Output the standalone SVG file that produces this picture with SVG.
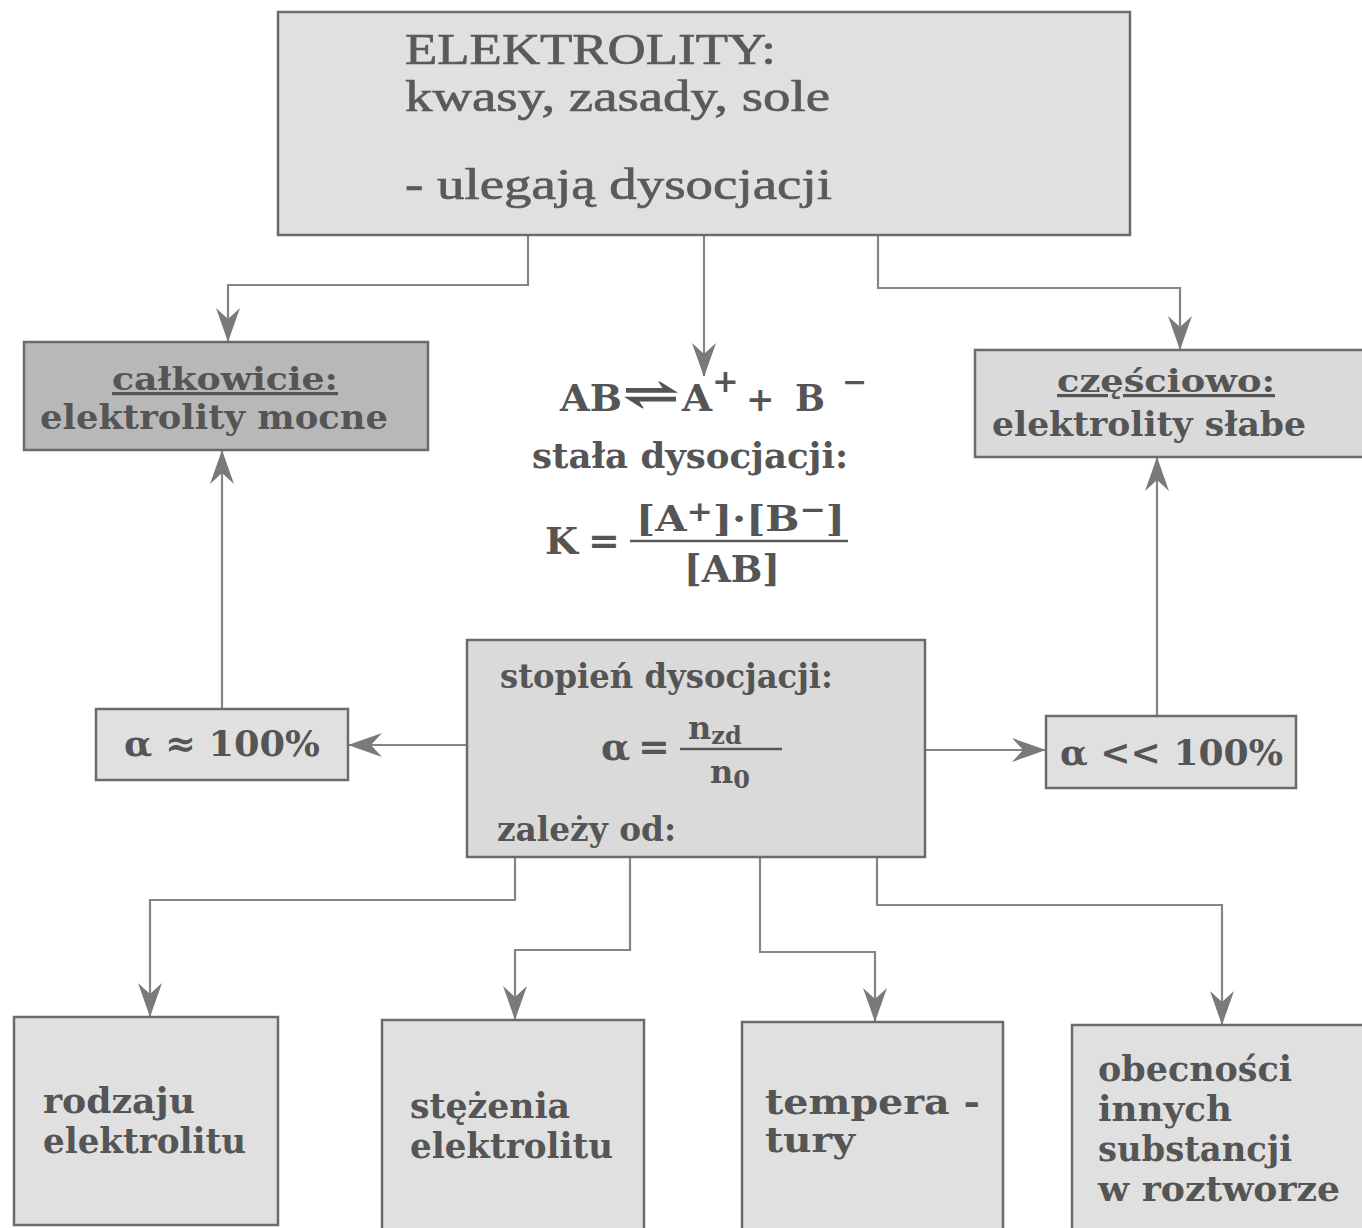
<svg xmlns="http://www.w3.org/2000/svg" width="1362" height="1228" viewBox="0 0 1362 1228">
<defs>
<style>
.box{stroke:#6b6b6b;stroke-width:2.5}
.light{fill:#e0e0e0}
.mid{fill:#dadada}
.dark{fill:#b8b8b8}
.conn{fill:none;stroke:#858585;stroke-width:2.2}
.t{font-family:"DejaVu Serif","Liberation Serif",serif;font-weight:bold;fill:#555555}
.tt{font-family:"Liberation Serif","Times New Roman",serif;fill:#5a5a5a;stroke:#5a5a5a;stroke-width:0.7;font-size:44px}
.u{text-decoration:underline}
</style>
<marker id="arr" markerUnits="userSpaceOnUse" markerWidth="34" markerHeight="28" viewBox="0 0 34 28" refX="33" refY="14" orient="auto">
<path d="M0,2 L34,14 L0,26 L11,14 Z" fill="#7a7a7a"/>
</marker>
</defs>
<rect width="1362" height="1228" fill="#ffffff"/>

<g id="connectors">
<polyline class="conn" points="528,235 528,285 228,285 228,341" marker-end="url(#arr)"/>
<line class="conn" x1="704" y1="235" x2="704" y2="376" marker-end="url(#arr)"/>
<polyline class="conn" points="878,235 878,288 1180,288 1180,349" marker-end="url(#arr)"/>
<line class="conn" x1="467" y1="745" x2="349" y2="745" marker-end="url(#arr)"/>
<line class="conn" x1="222" y1="709" x2="222" y2="451" marker-end="url(#arr)"/>
<line class="conn" x1="925" y1="750" x2="1045" y2="750" marker-end="url(#arr)"/>
<line class="conn" x1="1157" y1="716" x2="1157" y2="458" marker-end="url(#arr)"/>
<polyline class="conn" points="515,857 515,900 150,900 150,1016" marker-end="url(#arr)"/>
<polyline class="conn" points="630,857 630,950 515,950 515,1019" marker-end="url(#arr)"/>
<polyline class="conn" points="760,857 760,952 875,952 875,1021" marker-end="url(#arr)"/>
<polyline class="conn" points="877,857 877,905 1222,905 1222,1024" marker-end="url(#arr)"/>
</g>

<g id="elektrolity">
<rect class="box light" x="278" y="12" width="852" height="223"/>
<text class="tt" x="405" y="64" textLength="371" lengthAdjust="spacingAndGlyphs">ELEKTROLITY:</text>
<text class="tt" x="405" y="111" textLength="425" lengthAdjust="spacingAndGlyphs">kwasy, zasady, sole</text>
<text class="tt" x="405" y="199" textLength="427" lengthAdjust="spacingAndGlyphs">- ulegają dysocjacji</text>
</g>

<g id="calkowicie">
<rect class="box dark" x="24" y="342" width="404" height="108"/>
<text class="t u" x="112" y="390" font-size="32" textLength="226" lengthAdjust="spacingAndGlyphs">całkowicie:</text>
<text class="t" x="40" y="429" font-size="33" textLength="348" lengthAdjust="spacingAndGlyphs">elektrolity mocne</text>
</g>

<g id="czesciowo">
<rect class="box mid" x="975" y="350" width="392" height="107"/>
<text class="t u" x="1057" y="392" font-size="32" textLength="218" lengthAdjust="spacingAndGlyphs">częściowo:</text>
<text class="t" x="992" y="436" font-size="34" textLength="314" lengthAdjust="spacingAndGlyphs">elektrolity słabe</text>
</g>

<g id="rownanie">
<text class="t" x="560" y="411" font-size="38" textLength="62" lengthAdjust="spacingAndGlyphs">AB</text>
<text class="t" x="622" y="409" font-size="44" textLength="58" lengthAdjust="spacingAndGlyphs">⇌</text>
<text class="t" x="682" y="411" font-size="38" textLength="30" lengthAdjust="spacingAndGlyphs">A</text>
<text class="t" x="712" y="392" font-size="32">+</text>
<text class="t" x="746" y="411" font-size="34">+</text>
<text class="t" x="795" y="411" font-size="38" textLength="30" lengthAdjust="spacingAndGlyphs">B</text>
<text class="t" x="842" y="392" font-size="30">−</text>
<text class="t" x="532" y="468" font-size="36" textLength="316" lengthAdjust="spacingAndGlyphs">stała dysocjacji:</text>
<text class="t" x="545" y="554" font-size="38">K</text>
<text class="t" x="588" y="554" font-size="38">=</text>
<text class="t" x="636" y="531" font-size="36" textLength="209" lengthAdjust="spacingAndGlyphs">[A<tspan dy="-10" font-size="28">+</tspan><tspan dy="10">]·[B</tspan><tspan dy="-12" font-size="28">−</tspan><tspan dy="12">]</tspan></text>
<line x1="630" y1="541" x2="848" y2="541" stroke="#595959" stroke-width="2.5"/>
<text class="t" x="684" y="582" font-size="38" textLength="96" lengthAdjust="spacingAndGlyphs">[AB]</text>
</g>

<g id="stopien">
<rect class="box mid" x="467" y="640" width="458" height="217"/>
<text class="t" x="500" y="688" font-size="34" textLength="333" lengthAdjust="spacingAndGlyphs">stopień dysocjacji:</text>
<text class="t" x="601" y="760" font-size="38">α</text>
<text class="t" x="638" y="760" font-size="38">=</text>
<line x1="680" y1="749" x2="782" y2="749" stroke="#595959" stroke-width="2.5"/>
<text class="t" x="688" y="739" font-size="32">n<tspan dy="5" font-size="24">zd</tspan></text>
<text class="t" x="710" y="783" font-size="32">n<tspan dy="5" font-size="24">0</tspan></text>
<text class="t" x="497" y="841" font-size="34" textLength="179" lengthAdjust="spacingAndGlyphs">zależy od:</text>
</g>

<g id="alfa-duze">
<rect class="box light" x="96" y="709" width="252" height="71"/>
<text class="t" x="124" y="756" font-size="36" textLength="196" lengthAdjust="spacingAndGlyphs">α ≈ 100%</text>
</g>

<g id="alfa-male">
<rect class="box light" x="1046" y="716" width="250" height="72"/>
<text class="t" x="1060" y="765" font-size="36" textLength="223" lengthAdjust="spacingAndGlyphs">α &lt;&lt; 100%</text>
</g>

<g id="rodzaju">
<rect class="box light" x="14" y="1017" width="264" height="208"/>
<text class="t" x="43" y="1113" font-size="36" textLength="152" lengthAdjust="spacingAndGlyphs">rodzaju</text>
<text class="t" x="43" y="1153" font-size="36" textLength="203" lengthAdjust="spacingAndGlyphs">elektrolitu</text>
</g>

<g id="stezenia">
<rect class="box light" x="382" y="1020" width="262" height="210"/>
<text class="t" x="410" y="1118" font-size="36" textLength="160" lengthAdjust="spacingAndGlyphs">stężenia</text>
<text class="t" x="410" y="1158" font-size="36" textLength="203" lengthAdjust="spacingAndGlyphs">elektrolitu</text>
</g>

<g id="temperatury">
<rect class="box light" x="742" y="1022" width="261" height="210"/>
<text class="t" x="765" y="1114" font-size="36" textLength="215" lengthAdjust="spacingAndGlyphs">tempera -</text>
<text class="t" x="765" y="1152" font-size="36" textLength="90" lengthAdjust="spacingAndGlyphs">tury</text>
</g>

<g id="obecnosci">
<rect class="box light" x="1072" y="1025" width="295" height="210"/>
<text class="t" x="1098" y="1081" font-size="36" textLength="194" lengthAdjust="spacingAndGlyphs">obecności</text>
<text class="t" x="1098" y="1121" font-size="36" textLength="134" lengthAdjust="spacingAndGlyphs">innych</text>
<text class="t" x="1098" y="1161" font-size="36" textLength="194" lengthAdjust="spacingAndGlyphs">substancji</text>
<text class="t" x="1098" y="1201" font-size="36" textLength="242" lengthAdjust="spacingAndGlyphs">w roztworze</text>
</g>
</svg>
